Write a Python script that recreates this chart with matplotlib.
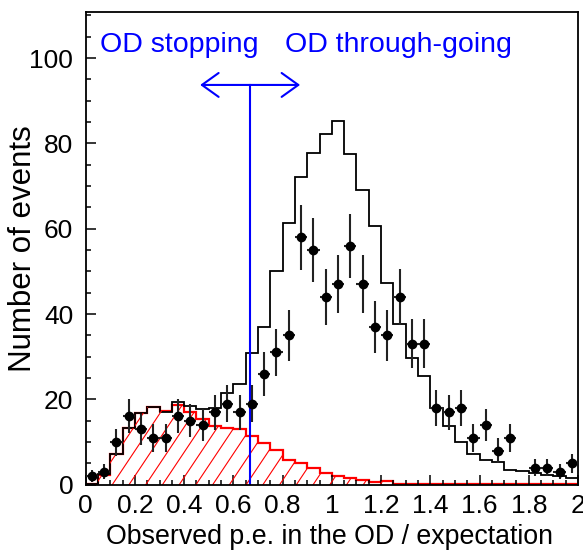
import matplotlib
matplotlib.use('Agg')
import matplotlib.pyplot as plt
import numpy as np
from matplotlib.ticker import MultipleLocator

plt.rcParams['font.family'] = ['Liberation Sans', 'DejaVu Sans']

# binning: 40 bins of 0.05 between 0 and 2
edges = np.linspace(0, 2, 41)
centers = 0.5 * (edges[:-1] + edges[1:])

# observed events per bin
data = [2, 3, 10, 16, 13, 11, 11, 16, 15, 14, 17, 19, 17, 19, 26, 31, 35, 58, 55, 44,
        47, 56, 47, 37, 35, 44, 33, 33, 18, 17, 18, 11, 14, 8, 11, 0, 4, 4, 3, 5]

# expectation, total (black) and OD stopping part (red, hatched)
mc_total = [0.1, 2.5, 7.2, 13.4, 16.9, 18.3, 17.1, 19.3, 18.5, 17.8, 18.0, 21.4, 23.7, 30.8,
            36.9, 50.1, 61.4, 72.1, 77.8, 82.1, 85.3, 77.6, 69.0, 60.7, 47.3, 37.6, 29.6, 25.5,
            17.9, 13.8, 10.1, 7.2, 5.8, 5.2, 3.4, 3.2, 2.8, 2.3, 2.1, 1.6]
mc_stop = [0.1, 2.3, 7.2, 13.4, 16.9, 18.3, 17.2, 18.7, 17.1, 15.3, 13.8, 13.2, 13.0, 11.5,
           9.8, 8.1, 5.9, 5.0, 3.8, 2.8, 2.0, 1.6, 1.2, 0.6, 0.8, 0.2, 0.2, 0.15, 0.1, 0.1,
           0.1, 0.05, 0.05, 0.05, 0.05, 0.05, 0.05, 0.05, 0.05, 0.05]

cut = 0.668
arrow_y = 93.7

fig = plt.figure(figsize=(5.83, 5.55), dpi=100)
ax = fig.add_axes([0.147, 0.1267, 0.8444, 0.8517])

# red hatched histogram (hatch drawn by hand, clipped to the histogram shape)
red = ax.stairs(mc_stop, edges, fill=True, facecolor='none', edgecolor='none')
ax.stairs(mc_stop, edges, color='red', lw=1.6, baseline=None)
slope = 1.56
for x0 in np.arange(-1.0, 1.05, 0.034):
    ln, = ax.plot([x0, x0 + 1 / slope], [0, 1], color='red', lw=0.8,
                  transform=ax.transAxes)
    ln.set_clip_path(red)

# black histogram
ax.stairs(mc_total, edges, color='black', lw=1.3, baseline=None)

# data points
d = np.array(data, dtype=float)
m = d > 0
ax.errorbar(centers[m], d[m], yerr=np.sqrt(d[m]), xerr=0.025, fmt='o', color='black',
            ecolor='#222222', ms=6, elinewidth=1.5, capsize=0, zorder=5)

# cut line and arrow
ax.plot([cut, cut], [0, arrow_y], color='blue', lw=1.5)
ax.annotate('', xy=(0.871, arrow_y), xytext=(0.465, arrow_y),
            arrowprops=dict(arrowstyle='<->,head_length=1.2,head_width=0.86', color='blue',
                            lw=1.5, mutation_scale=10, shrinkA=0, shrinkB=0))
ax.text(0.058, 103, 'OD stopping', color='blue', fontsize=20.5, va='center', ha='left')
ax.text(0.81, 103, 'OD through-going', color='blue', fontsize=20.5, va='center', ha='left')

ax.set_xlim(0, 2)
ax.set_ylim(0, 110.8)
ax.xaxis.set_major_locator(MultipleLocator(0.2))
ax.xaxis.set_minor_locator(MultipleLocator(0.05))
ax.yaxis.set_major_locator(MultipleLocator(20))
ax.yaxis.set_minor_locator(MultipleLocator(5))
ax.set_xticks(np.arange(0, 2.01, 0.2))
ax.set_xticklabels(['0', '0.2', '0.4', '0.6', '0.8', '1', '1.2', '1.4', '1.6', '1.8', '2'])
ax.tick_params(which='both', direction='in', top=False, right=False, width=1.1, labelsize=19)
ax.tick_params(which='major', length=7)
ax.tick_params(which='minor', length=3.5)
ax.tick_params(axis='y', pad=9)
ax.tick_params(axis='x', pad=7)
for s in ax.spines.values():
    s.set_linewidth(1.3)

ax.set_xlabel('Observed p.e. in the OD / expectation', fontsize=19.3)
ax.set_ylabel('Number of events', fontsize=22.5)
ax.xaxis.set_label_coords(0.496, -0.083)
ax.yaxis.set_label_coords(-0.097, 0.5)

fig.savefig('out.png', dpi=100)
